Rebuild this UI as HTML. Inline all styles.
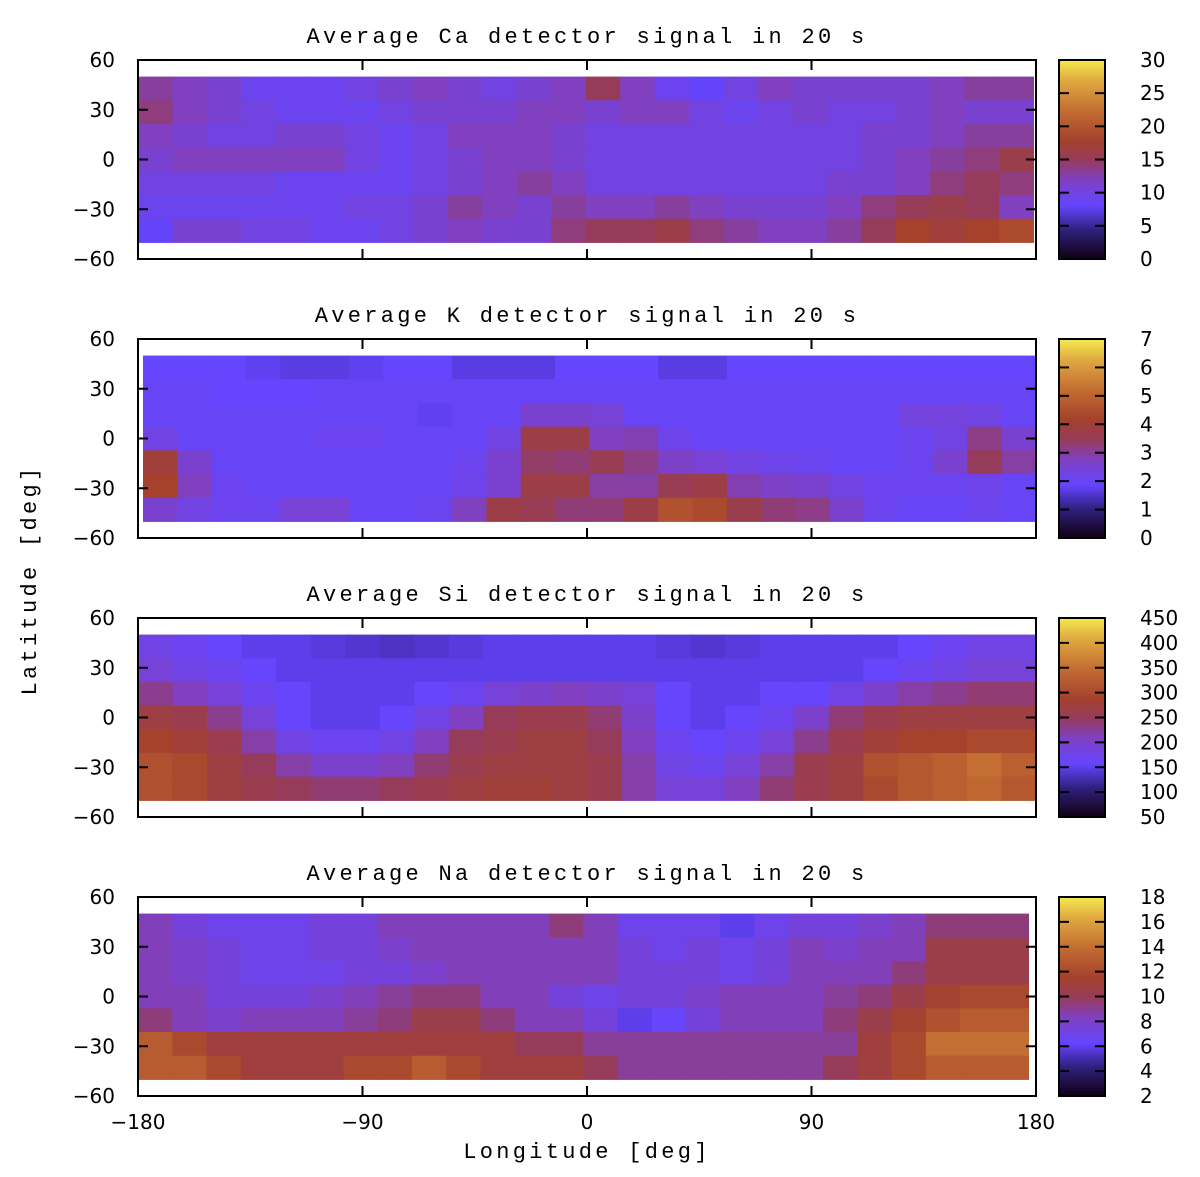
<!DOCTYPE html>
<html><head><meta charset="utf-8">
<style>
body{margin:0;background:#fff;}
svg{display:block;}
.t{font-family:"Liberation Mono",monospace;font-size:22px;letter-spacing:3.3px;fill:#000;}
.k{font-family:"DejaVu Sans","Liberation Sans",sans-serif;font-size:20px;fill:#000;}
</style></head>
<body>
<svg id="chart" width="1200" height="1177" viewBox="0 0 1200 1177" xmlns="http://www.w3.org/2000/svg"></svg>
<script>
const lonTicks=[-180,-90,0,90,180];
const latTicks=[-60,-30,0,30,60];
const panelNames=["Ca","K","Si","Na"];
const cbMin=[0,0,50,2];
const cbMax=[30,7,450,18];
const cbStep=[5,1,50,2];
const caValues=[
[13,12,11,9,9,9,10,11,12,11,10,11,12,15,12,9,8,10,12,11,11,11,11,12,13,13],
[14,12,11,10,9,9,9,10,11,11,11,12,12,11,12,12,10,9,10,11,10,10,11,12,11,11],
[12,11,10,10,11,11,10,9,10,12,12,12,11,10,10,10,10,10,10,10,10,11,11,12,13,13],
[11,12,12,12,12,12,10,9,10,11,12,12,11,10,10,10,10,10,10,10,10,11,12,13,14,16],
[10,10,10,10,9,9,9,9,10,11,12,13,12,10,10,10,10,10,10,10,11,11,12,14,15,14],
[9,9,9,9,9,9,10,10,11,13,12,11,13,12,12,13,12,11,11,11,12,14,15,16,15,12],
[8,11,11,10,10,9,9,10,11,12,11,11,14,15,15,16,14,13,12,12,13,15,18,17,18,19]];
const kValues=[
[1.9,1.9,1.9,1.8,1.7,1.7,1.8,1.9,1.9,1.7,1.7,1.7,1.9,1.9,1.9,1.7,1.7,1.9,1.9,1.9,1.9,1.9,1.9,1.9,1.9,1.9],
[2.0,2.0,1.9,1.9,1.9,2.0,2.0,2.0,2.0,2.0,2.0,2.0,2.0,2.0,2.0,2.0,2.0,2.0,2.0,2.0,2.0,2.0,2.0,2.0,2.0,2.0],
[2.0,2.0,2.0,2.0,2.0,2.0,2.0,2.0,1.8,2.0,2.0,2.6,2.6,2.5,2.0,2.0,2.0,2.0,2.0,2.0,2.0,2.0,2.4,2.4,2.3,2.0],
[2.3,2.0,2.0,2.0,2.0,2.1,2.1,2.0,2.0,2.0,2.3,3.8,3.8,2.8,2.9,2.2,2.0,2.0,2.0,2.0,2.0,2.0,2.1,2.3,3.2,2.6],
[4.0,2.6,2.0,2.0,2.0,2.0,2.0,2.0,2.0,2.1,2.6,3.4,3.3,3.6,3.2,2.7,2.5,2.3,2.2,2.1,2.0,2.0,2.1,2.6,3.5,3.0],
[4.2,2.8,2.1,2.0,2.0,2.0,2.0,2.0,2.0,2.2,2.6,3.8,3.8,3.0,3.0,3.6,3.8,2.9,2.7,2.6,2.3,2.1,2.1,2.1,2.2,2.0],
[2.6,2.3,2.1,2.1,2.5,2.5,2.0,2.0,2.1,2.8,3.8,3.6,3.3,3.3,3.8,4.6,4.4,3.7,3.3,3.2,2.6,2.1,2.0,2.0,2.1,2.0]];
const siValues=[
[180,170,160,150,150,145,140,135,140,145,150,150,150,150,150,145,140,145,150,150,150,150,160,170,180,180],
[190,180,170,160,150,150,150,150,150,150,150,150,150,150,150,150,150,150,150,150,150,160,170,180,190,190],
[230,210,190,170,160,150,150,150,160,170,190,200,210,200,190,160,150,150,160,160,180,200,220,230,240,240],
[270,260,230,190,160,150,150,160,180,210,250,260,260,240,200,160,150,160,170,200,240,260,270,270,270,270],
[290,280,260,220,180,170,170,180,210,250,260,270,270,250,210,170,160,170,190,230,260,280,290,290,300,300],
[310,300,270,250,220,200,200,210,240,260,270,270,270,260,220,180,170,190,220,260,270,310,320,330,350,330],
[310,300,270,260,250,240,240,250,260,270,280,280,270,260,220,190,190,210,240,260,270,300,320,330,340,320]];
const naValues=[
[8.5,7.5,7,7,7,7.5,7.5,8.5,8.5,8.5,8.5,8.5,9.5,8.5,7,7,7,6,7,7.5,7.5,8,8.5,9.5,9.5,9.5],
[8.5,8,7.5,7,7,7.5,7.5,8,8.5,8.5,8.5,8.5,8.5,8.5,7.5,7,7.5,7,7.5,8.5,8,8.5,8.5,10.5,10.5,10.5],
[8.5,8,7.5,7,7,7,7.5,7.5,8,8.5,8.5,8.5,8.5,8.5,7.5,7.5,7.5,7,7.5,8.5,8.5,8.5,9.5,10.5,10.5,10.5],
[8.5,8.5,7.5,7.5,7.5,8,8.5,9,9.5,9.5,8.5,8.5,7.5,7,7.5,7.5,8,8.5,8.5,8.5,9,9.5,10.5,11.5,12,12],
[9.5,8.5,8,8.5,8.5,8.5,9,9.5,10.5,10.5,9.5,8.5,8.5,7.5,6,6.5,7.5,8.5,8.5,8.5,9.5,10.5,11.5,12.5,13,13],
[13,12,11,11,11,11,11,11,11,11,11,10,10,9,9,9,9,9,9,9,9,11,12,14,14,14],
[13,13,12,11,11,11,12,12,13,12,11,11,11,10,9,9,9,9,9,9,10,11,12,13,13,13]];
const allValues=[caValues,kValues,siValues,naValues];
const lonStart=[-180,-178,-180,-180];
const lonEnd=[179,180,180,177];
const latTop=50, latBottom=-50;

const NS="http://www.w3.org/2000/svg";
const svg=document.getElementById("chart");
const stops=[[0,[16,0,16]],[0.15,[48,32,128]],[0.27,[101,69,255]],[0.4,[128,64,192]],[0.5,[150,60,90]],[0.6,[165,65,45]],[0.75,[195,110,50]],[0.9,[224,170,64]],[1,[245,232,80]]];
function col(f){f=Math.max(0,Math.min(1,f));for(let i=1;i<stops.length;i++){if(f<=stops[i][0]){const a=stops[i-1],b=stops[i];const t=(f-a[0])/(b[0]-a[0]);const c=a[1].map((v,j)=>Math.round(v+(b[1][j]-v)*t));return `rgb(${c[0]},${c[1]},${c[2]})`;}}return "rgb(245,232,80)";}
function el(tag,attrs,parent){const e=document.createElementNS(NS,tag);for(const k in attrs)e.setAttribute(k,attrs[k]);(parent||svg).appendChild(e);return e;}
const X0=138,X1=1036,H=199,tops=[60,339,618,897];
const CBX=1059,CBW=46;
tops.forEach((top,p)=>{
  const g=el("g",{});
  
  
  const xs=lon=>X0+(lon+180)/360*(X1-X0);
  const ys=lat=>top+H-(lat+60)/120*H;
  const vals=allValues[p],nr=vals.length,nc=vals[0].length;
  const dLon=(lonEnd[p]-lonStart[p])/nc,dLat=(latTop-latBottom)/nr;
  for(let r=0;r<nr;r++)for(let c=0;c<nc;c++){
    const l0=lonStart[p]+c*dLon,la0=latTop-r*dLat;
    const rc=el("rect",{x:xs(l0),y:ys(la0),width:xs(l0+dLon)-xs(l0)+0.5,height:ys(la0-dLat)-ys(la0)+0.5,fill:col((vals[r][c]-cbMin[p])/(cbMax[p]-cbMin[p]))},g);
    
    
  }
  el("rect",{x:X0,y:top,width:X1-X0,height:H,fill:"none",stroke:"#000","stroke-width":2},g);
  lonTicks.forEach(v=>{const x=xs(v);el("line",{x1:x,x2:x,y1:top,y2:top+10,stroke:"#000","stroke-width":2},g);el("line",{x1:x,x2:x,y1:top+H,y2:top+H-10,stroke:"#000","stroke-width":2},g);});
  latTicks.forEach(v=>{const y=ys(v);el("line",{x1:X0,x2:X0+10,y1:y,y2:y,stroke:"#000","stroke-width":2},g);el("line",{x1:X1,x2:X1-10,y1:y,y2:y,stroke:"#000","stroke-width":2},g);
    const t=el("text",{x:115,y:y+7,"text-anchor":"end",class:"k"},g);t.textContent=String(v).replace("-","\u2212");
    
    });
  const tt=el("text",{x:587,y:top-17,"text-anchor":"middle",class:"t"},g);
  tt.textContent="Average "+panelNames[p]+" detector signal in 20 s";
  
  
  const cb=el("g",{},g);
  
  
  const N=100;
  for(let i=0;i<N;i++){el("rect",{x:CBX,y:top+H-(i+1)*H/N,width:CBW,height:H/N+0.6,fill:col((i+0.5)/N)},cb);}
  el("rect",{x:CBX,y:top,width:CBW,height:H,fill:"none",stroke:"#000","stroke-width":2},cb);
  for(let v=cbMin[p];v<=cbMax[p]+1e-9;v+=cbStep[p]){
    const y=top+H-(v-cbMin[p])/(cbMax[p]-cbMin[p])*H;
    if(v>cbMin[p]&&v<cbMax[p]){el("line",{x1:CBX,x2:CBX+10,y1:y,y2:y,stroke:"#000","stroke-width":2},cb);el("line",{x1:CBX+CBW,x2:CBX+CBW-10,y1:y,y2:y,stroke:"#000","stroke-width":2},cb);}
    const t=el("text",{x:1140,y:y+7,class:"k"},cb);t.textContent=v;
    
    
  }
  if(p===3){lonTicks.forEach(v=>{const t=el("text",{x:xs(v),y:top+H+33,"text-anchor":"middle",class:"k"},g);t.textContent=String(v).replace("-","\u2212");
    
    });}
});
const xl=el("text",{x:587,y:1158,"text-anchor":"middle",class:"t"});xl.textContent="Longitude [deg]";


const yl=el("text",{x:0,y:0,"text-anchor":"middle",class:"t",transform:"translate(36,580) rotate(-90)"});yl.textContent="Latitude [deg]";


</script>
</body></html>
